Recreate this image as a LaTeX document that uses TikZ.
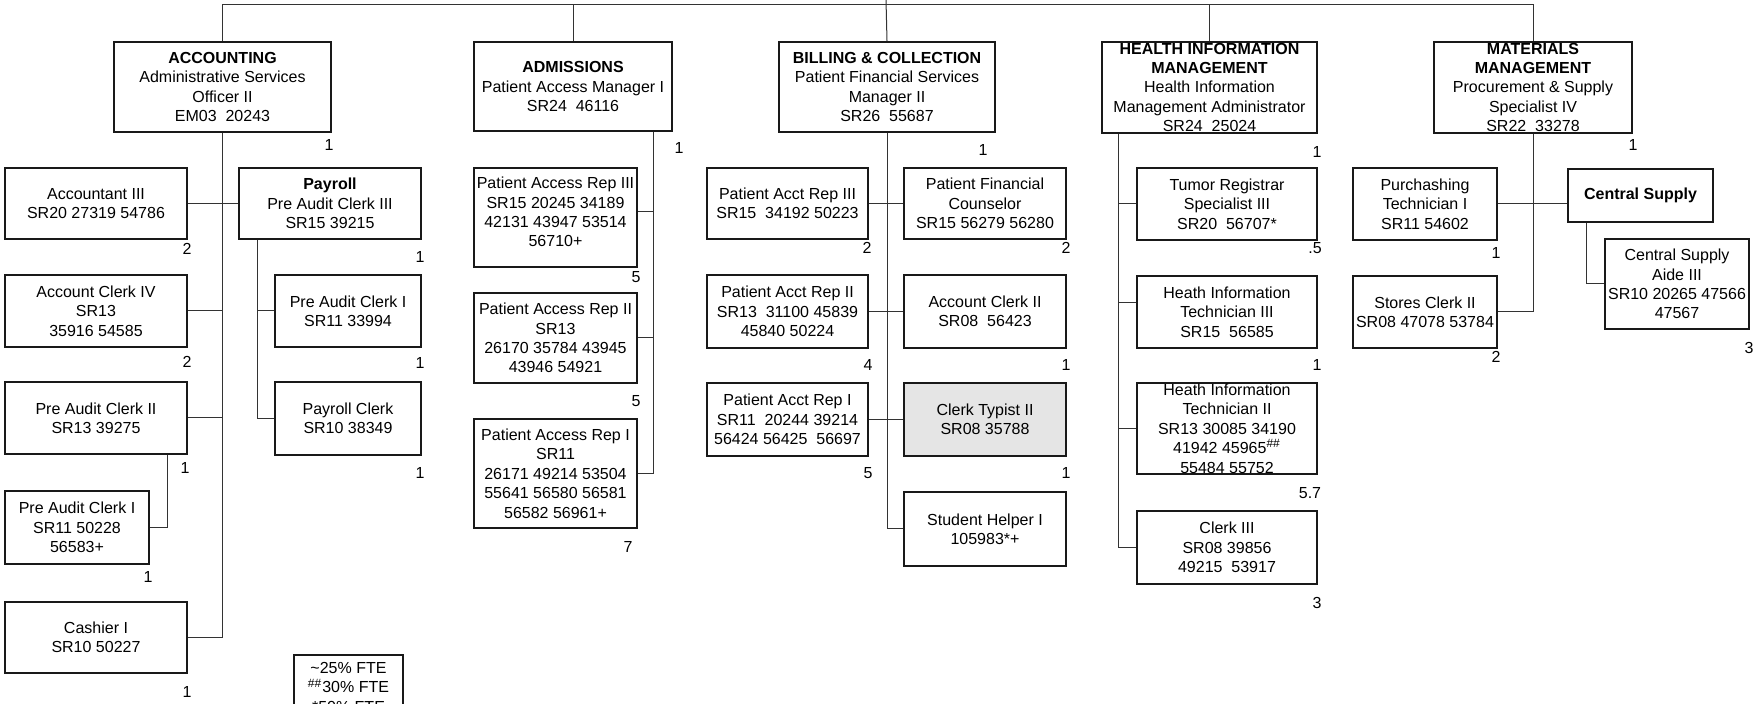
\documentclass[tikz,border=0pt]{standalone}
\usepackage{fontspec}
\setmainfont{Liberation Sans}
\usetikzlibrary{calc}
\tikzset{
 box/.style={draw=black!90, line width=0.75pt, inner sep=0pt, rectangle},
 txt/.style={align=center, inner sep=0pt, font=\fontsize{8}{9.7}\selectfont},
 conn/.style={draw=black!80, line width=0.5pt},
 num/.style={inner sep=0pt, font=\fontsize{8}{9.7}\selectfont},
}
\newcommand\bx[7][]{%
 \node[box,#1,minimum width={(#5-#3)*0.5pt},minimum height={(#6-#4)*0.5pt}] (#2) at ({(#3+#5)/2},{(#4+#6)/2}) {};
 \node[txt] (#2t) at (#2.center) {#7};}
\begin{document}
\begin{tikzpicture}[x=0.5pt,y=-0.5pt]
\useasboundingbox (0,0) rectangle (1754,704);
\clip (0,0) rectangle (1754,704);
% ACCOUNTING
\bx{acc}{114}{42}{331}{132}{\textbf{ACCOUNTING}\\Administrative Services\\Officer II\\EM03\ \ 20243}
\bx{acc3}{5}{168}{187}{239}{Accountant III\\SR20 27319 54786}
\bx{pay}{239}{168}{421}{239}{\textbf{Payroll}\\Pre Audit Clerk III\\SR15 39215}
\bx{ack4}{5}{275}{187}{347}{Account Clerk IV\\SR13\\35916 54585}
\bx{pac1p}{275}{275}{421}{347}{Pre Audit Clerk I\\SR11 33994}
\bx{pac2}{5}{382}{187}{454}{Pre Audit Clerk II\\SR13 39275}
\bx{payc}{275}{382}{421}{455}{Payroll Clerk\\SR10 38349}
\bx{pac1a}{5}{491}{149}{564}{Pre Audit Clerk I\\SR11 50228\\56583+}
\bx{cash}{5}{602}{187}{673}{Cashier I\\SR10 50227}
% ADMISSIONS
\bx{adm}{474}{42}{672}{131}{\textbf{ADMISSIONS}\\Patient Access Manager I\\SR24\ \ 46116}
\bx{par3}{474}{168}{637}{267}{}
\node[txt] (par3text) at (555.5,212) {Patient Access Rep III\\SR15 20245 34189\\42131 43947 53514\\56710+};
\bx{par2}{474}{293}{637}{383}{Patient Access Rep II\\SR13\\26170 35784 43945\\43946 54921}
\bx{par1}{474}{419}{637}{528}{Patient Access Rep I\\SR11\\26171 49214 53504\\55641 56580 56581\\56582 56961+}
% BILLING
\bx{bil}{779}{42}{995}{132}{\textbf{BILLING \& COLLECTION}\\Patient Financial Services\\Manager II\\SR26\ \ 55687}
\bx{bpr3}{707}{168}{868}{239}{Patient Acct Rep III\\SR15\ \ 34192 50223}
\bx{pfc}{904}{168}{1066}{239}{Patient Financial\\Counselor\\SR15 56279 56280}
\bx{bpr2}{707}{275}{868}{348}{Patient Acct Rep II\\SR13\ \ 31100 45839\\45840 50224}
\bx{ac2}{904}{275}{1066}{348}{Account Clerk II\\SR08\ \ 56423}
\bx{bpr1}{707}{383}{868}{456}{Patient Acct Rep I\\SR11\ \ 20244 39214\\56424 56425\ \ 56697}
\bx[fill=black!10]{ct2}{904}{383}{1066}{456}{Clerk Typist II\\SR08 35788}
\bx{stu}{904}{492}{1066}{566}{Student Helper I\\105983*+}
% HIM
\bx{him}{1102}{42}{1317}{133}{\textbf{HEALTH INFORMATION}\\\textbf{MANAGEMENT}\\Health Information\\Management Administrator\\SR24\ \ 25024}
\bx{tum}{1137}{168}{1317}{240}{Tumor Registrar\\Specialist III\\SR20\ \ 56707*}
\bx{hit3}{1137}{276}{1317}{348}{Heath Information\\Technician III\\SR15\ \ 56585}
\bx{hit2}{1137}{383}{1317}{474}{Heath Information\\Technician II\\SR13 30085 34190\\41942 45965\textsuperscript{\#\#}\\55484 55752}
\bx{clk3}{1137}{511}{1317}{584}{Clerk III\\SR08 39856\\49215\ \ 53917}
% MATERIALS
\bx{mat}{1434}{42}{1632}{133}{\textbf{MATERIALS}\\\textbf{MANAGEMENT}\\Procurement \& Supply\\Specialist IV\\SR22\ \ 33278}
\bx{pur}{1353}{168}{1497}{240}{Purchashing\\Technician I\\SR11 54602}
\bx{cs}{1568}{169}{1713}{222}{\textbf{Central Supply}}
\bx{csa}{1605}{239}{1749}{329}{Central Supply\\Aide III\\SR10 20265 47566\\47567}
\bx{sto}{1353}{276}{1497}{348}{Stores Clerk II\\SR08 47078 53784}
% legend
\bx{leg}{294}{655}{403}{740}{}
\node[txt, anchor=north] (legt) at (348.5,662) {\textasciitilde25\% FTE\\\textsuperscript{\#\#}30\% FTE\\*50\% FTE};

% top bar
\coordinate (bar) at (0,5);
\coordinate (bartop) at (886,0);
\draw[conn] (acc.north) |- (bar -| mat.north) -- (mat.north);
\draw[conn] (adm.north) -- (adm.north |- bar);
\draw[conn] (bartop) -- (bil.north);
\draw[conn] (him.north) -- (him.north |- bar);

% accounting connectors
\draw[conn] (acc.south) |- (cash.east);
\draw[conn] (acc3.east) -- (pay.west);
\draw[conn] (ack4.east) -- (acc.south |- ack4.east);
\draw[conn] (pac2.east) -- (acc.south |- pac2.east);
\draw[conn] ($(pac2.south west)+(163,0)$) |- (pac1a.east);
\coordinate (payT) at ($(pay.south west)+(19,0)$);
\draw[conn] (payT) |- (payc.west);
\draw[conn] (pac1p.west) -- (payT |- pac1p.west);

% admissions connectors
\coordinate (admT) at ($(adm.south west)+(180,0)$);
\draw[conn] (admT) |- (par1.east);
\draw[conn] ($(par3.east)+(0,-5.5)$) coordinate (p3e) -- (admT |- p3e);
\draw[conn] (par2.east) -- (admT |- par2.east);

% billing connectors
\draw[conn] (bil.south) |- (stu.west);
\draw[conn] (bpr3.east) -- (pfc.west);
\draw[conn] (bpr2.east) -- (ac2.west);
\draw[conn] (bpr1.east) -- (ct2.west);

% HIM connectors
\coordinate (himT) at ($(him.south west)+(17,0)$);
\draw[conn] (himT) |- (clk3.west);
\draw[conn] (tum.west) -- (himT |- tum.west);
\draw[conn] ($(hit3.west)+(0,-9)$) coordinate (h3w) -- (himT |- h3w);
\draw[conn] (hit2.west) -- (himT |- hit2.west);

% materials connectors
\draw[conn] (mat.south) |- (sto.east);
\draw[conn] (pur.east) -- (pur.east -| cs.west);
\coordinate (csT) at ($(cs.south west)+(19,0)$);
\draw[conn] (csT) |- (csa.west);

% FTE numbers
\node[num] (n1) at (329,145) {1};
\node[num] (n2) at (187,249) {2};
\node[num] (n3) at (420,257) {1};
\node[num] (n4) at (187,362) {2};
\node[num] (n5) at (420,363) {1};
\node[num] (n6) at (185,468) {1};
\node[num] (n7) at (148,577) {1};
\node[num] (n8) at (420,473) {1};
\node[num] (n9) at (187,692) {1};
\node[num] (n10) at (679,148) {1};
\node[num] (n11) at (636,277) {5};
\node[num] (n12) at (636,401) {5};
\node[num] (n13) at (628,547) {7};
\node[num] (n14) at (983,150) {1};
\node[num] (n15) at (867,248) {2};
\node[num] (n16) at (1066,248) {2};
\node[num] (n17) at (868,365) {4};
\node[num] (n18) at (1066,365) {1};
\node[num] (n19) at (868,473) {5};
\node[num] (n20) at (1066,473) {1};
\node[num] (n21) at (1317,152) {1};
\node[num] (n22) at (1315,248) {.5};
\node[num] (n23) at (1317,365) {1};
\node[num] (n24) at (1310,493) {5.7};
\node[num] (n25) at (1317,603) {3};
\node[num] (n26) at (1633,145) {1};
\node[num] (n27) at (1496,253) {1};
\node[num] (n28) at (1496,357) {2};
\node[num] (n29) at (1749,348) {3};
\end{tikzpicture}
\end{document}
